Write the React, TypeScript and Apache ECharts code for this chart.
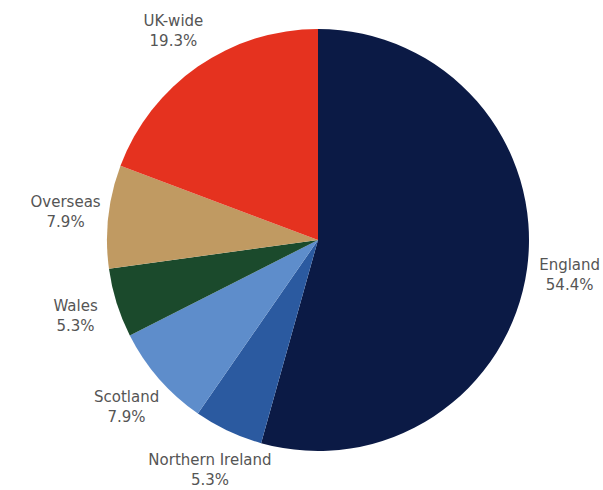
import React, { useEffect, useRef } from "react";
import * as echarts from "echarts";

const regions = ["England", "Northern Ireland", "Scotland", "Wales", "Overseas", "UK-wide"];
const shares = [54.4, 5.3, 7.9, 5.3, 7.9, 19.3];
const colors = ["#0b1a45", "#2b5aa0", "#5e8dcb", "#1b4a2c", "#c09a62", "#e5321f"];

export default function App() {
  const ref = useRef<HTMLDivElement>(null);

  useEffect(() => {
    const chart = echarts.init(ref.current!, null, { renderer: "svg" });
    const data = regions.map((name, i) => ({
      name,
      value: shares[i],
      itemStyle: { color: colors[i] },
    }));
    const center = [318, 240];
    chart.setOption({
      animation: false,
      backgroundColor: "#ffffff",
      series: [
        {
          type: "pie",
          center,
          radius: [0, 211],
          startAngle: 90,
          clockwise: true,
          data,
          label: { show: false },
          labelLine: { show: false },
          silent: true,
        },
        {
          // transparent ring that carries the centred labels
          type: "pie",
          center,
          radius: [246, 256],
          startAngle: 90,
          clockwise: true,
          silent: true,
          data: regions.map((name, i) => ({ name, value: shares[i] })),
          itemStyle: { color: "rgba(0,0,0,0)" },
          label: {
            show: true,
            position: "inside",
            formatter: (p: any) => `${p.name}\n${p.value.toFixed(1)}%`,
            color: "#555555",
            fontSize: 15,
            fontFamily: "DejaVu Sans",
            lineHeight: 20,
            align: "center",
            overflow: "none",
          },
          labelLayout: { hideOverlap: false },
          labelLine: { show: false },
        },
      ],
    });
    return () => chart.dispose();
  }, []);

  return (
    <div
      ref={ref}
      style={{ position: "fixed", left: 0, top: 0, width: 603, height: 490 }}
    />
  );
}
